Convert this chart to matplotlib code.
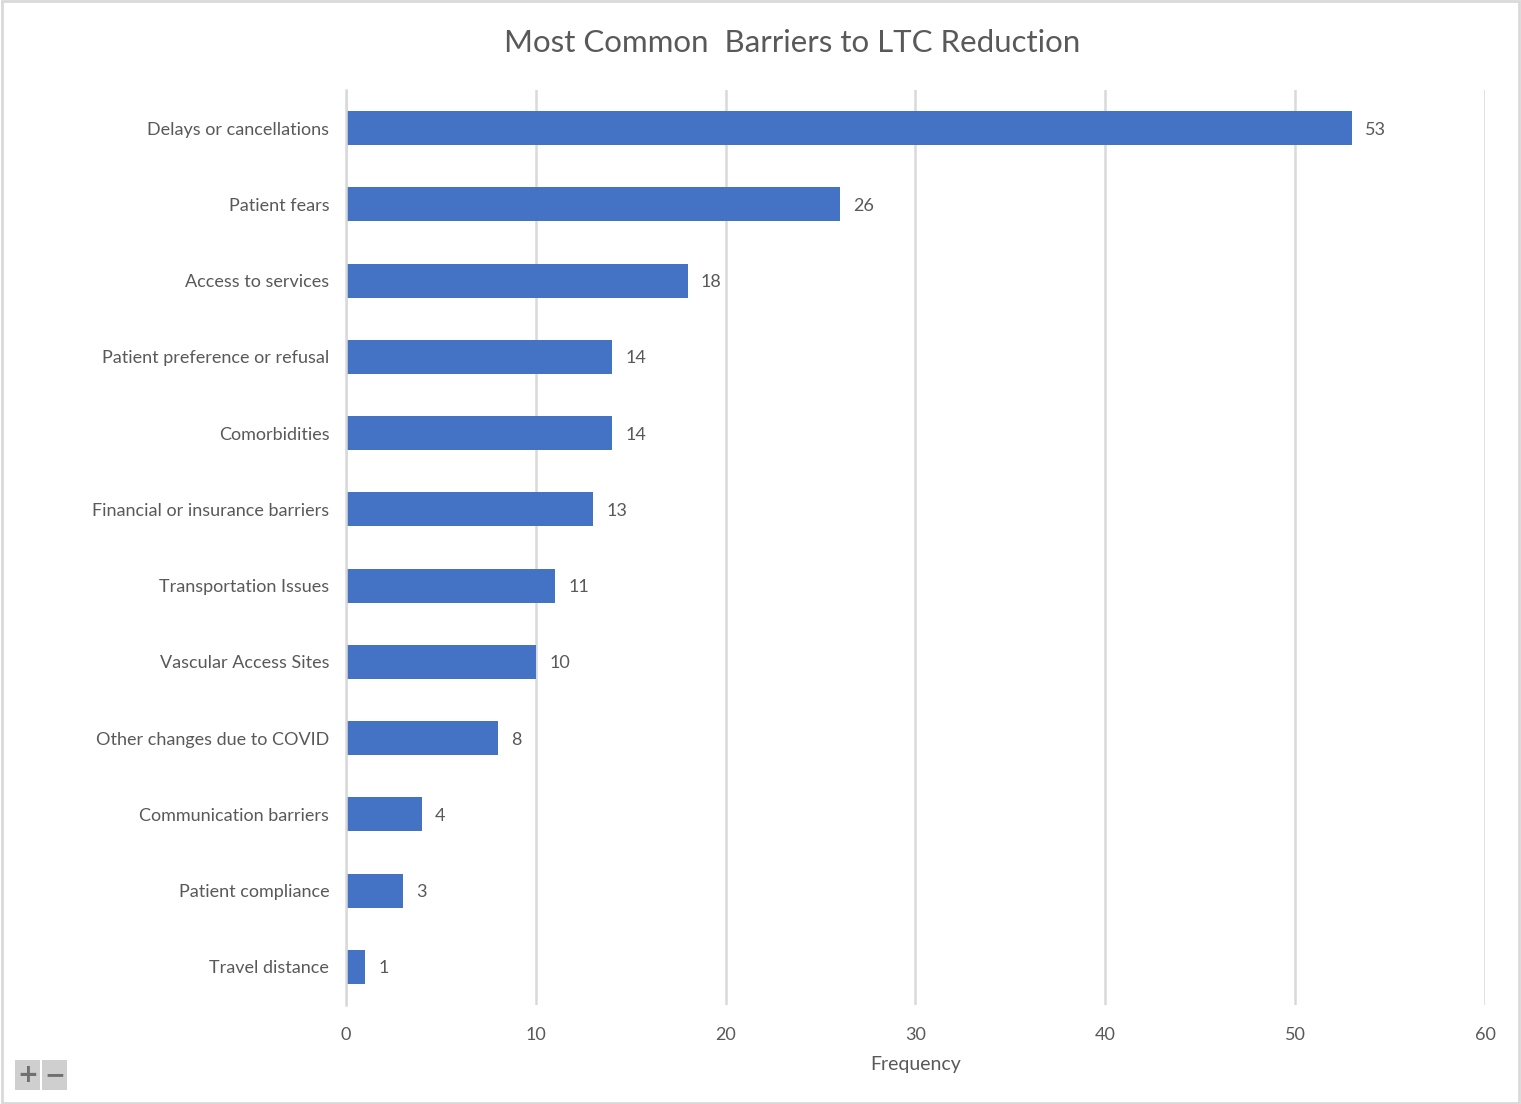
import matplotlib.pyplot as plt
from matplotlib.patches import Rectangle

# data
barriers = ['Delays or cancellations', 'Patient fears', 'Access to services',
            'Patient preference or refusal', 'Comorbidities',
            'Financial or insurance barriers', 'Transportation Issues',
            'Vascular Access Sites', 'Other changes due to COVID',
            'Communication barriers', 'Patient compliance', 'Travel distance']
counts = [53, 26, 18, 14, 14, 13, 11, 10, 8, 4, 3, 1]
xticks = [0, 10, 20, 30, 40, 50, 60]

txt = '#595959'
plt.rcParams['font.family'] = ['Lato', 'DejaVu Sans']

fig = plt.figure(figsize=(15.21, 11.04), dpi=100)
ax = fig.add_axes([0.2275, 0.0897, 0.7488, 0.8288])

y = list(range(len(barriers)))
ax.barh(y, counts, height=0.445, color='#4472C4', zorder=3)
for yi, v in zip(y, counts):
    ax.text(v + 0.7, yi, str(v), va='center_baseline', ha='left', fontsize=13, color=txt)

ax.set_xlim(0, 60)
ax.set_ylim(len(barriers) - 0.5, -0.5)
ax.set_xticks(xticks)
ax.set_yticks(y)
ax.set_yticklabels(barriers)
ax.tick_params(axis='both', length=0, labelsize=13, labelcolor=txt)
ax.tick_params(axis='y', pad=12)
ax.tick_params(axis='x', pad=16)
ax.grid(axis='x', color='#d9d9d9', linewidth=1.8, zorder=0)
for s in ['top', 'right', 'bottom']:
    ax.spines[s].set_visible(False)
ax.spines['left'].set_color('#d9d9d9')
ax.spines['left'].set_linewidth(1.8)
ax.spines['left'].set_zorder(4)

fig.text(0.521, 0.961, 'Most Common  Barriers to LTC Reduction', ha='center', va='center',
         fontsize=22.5, color=txt)
fig.text(0.6017, 0.036, 'Frequency', ha='center', va='center', fontsize=14, color=txt)

# outer border
fig.patches.append(Rectangle((0.001, 0.001), 0.998, 0.998, transform=fig.transFigure,
                             fill=False, edgecolor='#d9d9d9', linewidth=2))
# zoom buttons
for i, sym in enumerate(['+', '\u2212']):
    x0 = (15 + i * 27) / 1521
    fig.patches.append(Rectangle((x0, 14 / 1104), 25 / 1521, 30 / 1104,
                                 transform=fig.transFigure, facecolor='#cfcfcf',
                                 edgecolor='none'))
    fig.text(x0 + 12.5 / 1521, 29 / 1104, sym, ha='center', va='center',
             fontsize=18, color='#707070', fontweight='bold', family='DejaVu Sans')

plt.savefig('out.png')
